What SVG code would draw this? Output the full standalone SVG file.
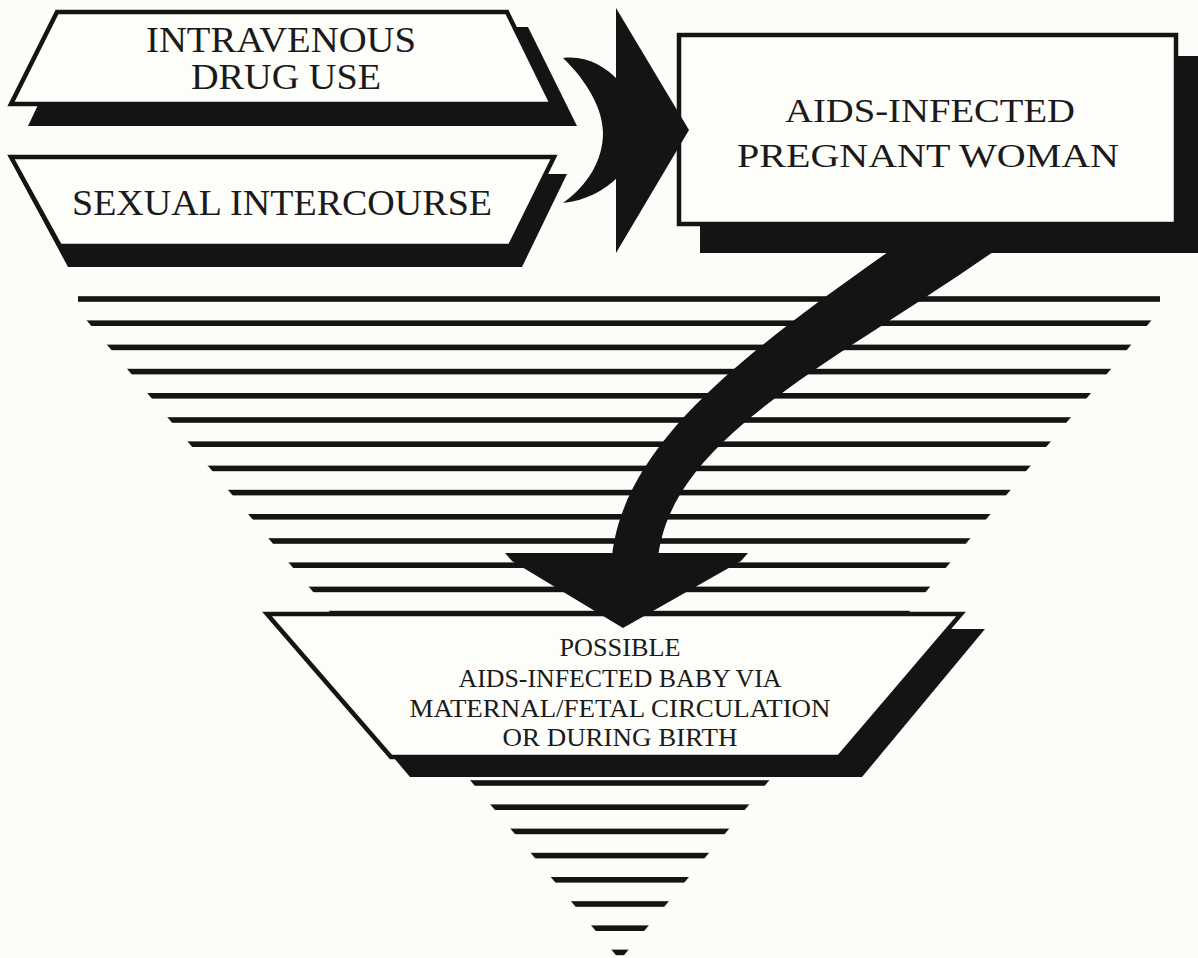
<svg xmlns="http://www.w3.org/2000/svg" width="1198" height="958" viewBox="0 0 1198 958">
  <defs>
    <style>
      .ink { fill: #141414; }
      .box { fill: #fdfdf9; stroke: #141414; stroke-width: 4.5; stroke-linejoin: miter; }
      .lbl { font-family: "Liberation Serif", "Times New Roman", serif; fill: #1a1a1a; text-anchor: middle; }
      .big { font-size: 35px; }
      .mid { font-size: 33px; }
      .sm { font-size: 25px; }
    </style>
    <clipPath id="funnel">
      <polygon points="78,290 1160,290 1160,310 620,960 78,310"/>
    </clipPath>
  </defs>

  <rect x="0" y="0" width="1198" height="958" fill="#fcfcf8"/>

  <!-- funnel of horizontal stripes -->
  <g id="stripes" class="ink" clip-path="url(#funnel)">
    <rect x="0" y="296.2" width="1198" height="5.6"/>
    <rect x="0" y="320.4" width="1198" height="5.6"/>
    <rect x="0" y="344.6" width="1198" height="5.6"/>
    <rect x="0" y="368.8" width="1198" height="5.6"/>
    <rect x="0" y="393" width="1198" height="5.6"/>
    <rect x="0" y="417.2" width="1198" height="5.6"/>
    <rect x="0" y="441.4" width="1198" height="5.6"/>
    <rect x="0" y="465.6" width="1198" height="5.6"/>
    <rect x="0" y="489.8" width="1198" height="5.6"/>
    <rect x="0" y="514" width="1198" height="5.6"/>
    <rect x="0" y="538.2" width="1198" height="5.6"/>
    <rect x="0" y="562.4" width="1198" height="5.6"/>
    <rect x="0" y="586.6" width="1198" height="5.6"/>
    <rect x="0" y="610.8" width="1198" height="5.6"/>
    <rect x="0" y="635" width="1198" height="5.6"/>
    <rect x="0" y="659.2" width="1198" height="5.6"/>
    <rect x="0" y="683.4" width="1198" height="5.6"/>
    <rect x="0" y="707.6" width="1198" height="5.6"/>
    <rect x="0" y="731.8" width="1198" height="5.6"/>
    <rect x="0" y="756" width="1198" height="5.6"/>
    <rect x="0" y="780.2" width="1198" height="5.6"/>
    <rect x="0" y="804.4" width="1198" height="5.6"/>
    <rect x="0" y="828.6" width="1198" height="5.6"/>
    <rect x="0" y="852.8" width="1198" height="5.6"/>
    <rect x="0" y="877" width="1198" height="5.6"/>
    <rect x="0" y="901.2" width="1198" height="5.6"/>
    <rect x="0" y="925.4" width="1198" height="5.6"/>
    <rect x="0" y="949.6" width="1198" height="5.6"/>
  </g>

  <!-- bottom node -->
  <g id="node-baby">
    <polygon class="ink" points="285,629 985,629 862,777 410,777"/>
    <polygon class="box" points="267,614 961,614 839,757 391,757"/>
    <text class="lbl sm" x="620" y="656" textLength="121" lengthAdjust="spacingAndGlyphs">POSSIBLE</text>
    <text class="lbl sm" x="620" y="687" textLength="323" lengthAdjust="spacingAndGlyphs">AIDS-INFECTED BABY VIA</text>
    <text class="lbl sm" x="620" y="717" textLength="421" lengthAdjust="spacingAndGlyphs">MATERNAL/FETAL CIRCULATION</text>
    <text class="lbl sm" x="620" y="746" textLength="235" lengthAdjust="spacingAndGlyphs">OR DURING BIRTH</text>
  </g>

  <!-- top-left nodes -->
  <g id="node-iv-drug-use">
    <polygon class="ink" points="75,27 528,27 577,126 28,126"/>
    <polygon class="box" points="57,12 507,12 552,104 11,104"/>
    <text class="lbl big" x="281" y="52" textLength="270" lengthAdjust="spacingAndGlyphs">INTRAVENOUS</text>
    <text class="lbl big" x="286" y="89" textLength="190" lengthAdjust="spacingAndGlyphs">DRUG USE</text>
  </g>

  <g id="node-sexual-intercourse">
    <polygon class="ink" points="18,174 567,174 522,267 68,267"/>
    <polygon class="box" points="11,157 554,157 510,246 60,246"/>
    <text class="lbl big" x="282" y="215" textLength="420" lengthAdjust="spacingAndGlyphs">SEXUAL INTERCOURSE</text>
  </g>

  <!-- woman node -->
  <g id="node-aids-woman">
    <rect class="ink" x="700" y="56" width="510" height="197"/>
    <rect class="box" x="679" y="35" width="497" height="189"/>
    <text class="lbl mid" x="930" y="122" textLength="290" lengthAdjust="spacingAndGlyphs">AIDS-INFECTED</text>
    <text class="lbl mid" x="928" y="167" textLength="382" lengthAdjust="spacingAndGlyphs">PREGNANT WOMAN</text>
  </g>

  <!-- connectors -->
  <g id="connectors" class="ink">
    <g id="merge-arrow">
      <path d="M563,58 C585,55 605,66 618,80 L618,177 C605,190 585,201 563,203 C588,185 603,160 603,133 C603,110 588,82 563,58 Z"/>
      <polygon points="616,8 689,130 616,253"/>
    </g>
    <g id="curved-arrow">
      <path d="M888,240 L888,252 C732,362 611,455 611,575 L657,575 C657,445 820,372 993,252 L993,240 Z"/>
      <polygon points="505,553 748,553 741,561 623,628 512,561"/>
    </g>
  </g>
</svg>
